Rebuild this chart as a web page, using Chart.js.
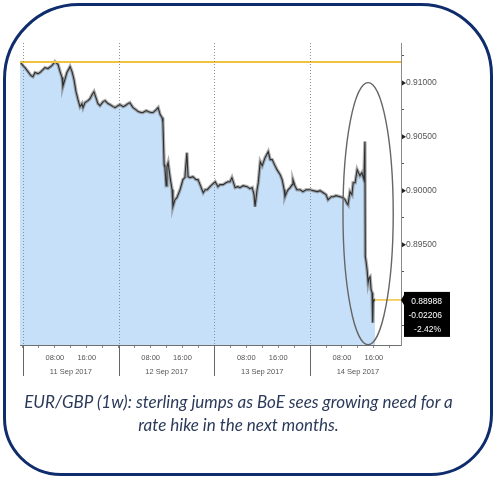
<!DOCTYPE html>
<html>
<head>
<meta charset="utf-8">
<script src="https://cdn.jsdelivr.net/npm/chart.js@4.4.0/dist/chart.umd.min.js"></script>
<style>
  html, body { margin: 0; padding: 0; background: #fff; }
  #wrap { position: relative; width: 495px; height: 478px; overflow: hidden; }
  #frame {
    position: absolute; left: 3px; top: 3px; width: 490px; height: 473px;
    box-sizing: border-box; border: 3px solid #0f2c6c;
    border-radius: 76px 72px 62px 58px;
  }
  #c { position: absolute; left: 0; top: 0; }
  #caption {
    position: absolute; left: 0; width: 477px; top: 390px;
    text-align: center; font-family: Lato, "Open Sans", sans-serif;
    font-style: italic; font-size: 17px; line-height: 23px; color: #2c3a5a;
  }
</style>
</head>
<body>
<div id="wrap">
  <canvas id="c" width="495" height="478"></canvas>
  <div id="frame"></div>
  <div id="caption">EUR/GBP (1w): sterling jumps as BoE sees growing need for a<br>rate hike in the next months.</div>
</div>
<script>
// EUR/GBP intraday, hours counted from 11 Sep 2017 00:00
const hours = [
  -0.75, 0, 0.5, 1.25, 2.0, 2.5, 3.0, 3.75, 4.25, 5.0, 5.5, 6.25, 7.25, 8.0, 8.8, 9.3, 9.8, 10.0, 10.5, 11.0,
  11.8, 12.3, 12.8, 13.3, 13.8, 14.3, 14.8, 15.05, 15.55, 16.3, 16.8, 17.3, 17.8, 18.3, 18.8, 19.3, 20.1, 20.6, 21.3, 21.8,
  22.6, 23.1, 23.8, 24.3, 25.1, 25.6, 26.3, 26.8, 27.6, 28.3, 28.9, 29.6, 30.1, 30.9, 31.4, 32.1, 32.6, 33.4, 33.9, 34.4,
  34.9, 35.1, 35.4, 35.6, 35.9, 36.1, 36.4, 36.9, 37.4, 37.6, 38.1, 38.6, 39.4, 40.1, 40.6, 41.1, 41.4, 41.9, 42.6, 43.4,
  43.9, 44.7, 45.2, 45.7, 46.2, 46.9, 47.4, 48.2, 48.9, 49.4, 50.2, 50.9, 51.4, 51.9, 52.4, 53.2, 53.9, 54.4, 55.2, 56.2,
  56.9, 57.5, 57.95, 58.2, 58.7, 59.0, 59.5, 60.0, 60.7, 61.5, 62.0, 62.5, 63.2, 63.7, 64.5, 65.0, 65.5, 65.7, 66.2, 66.5,
  67.0, 67.5, 67.7, 68.2, 68.7, 69.5, 70.2, 71.0, 72.0, 72.8, 73.8, 74.5, 75.3, 76.0, 76.5, 77.3, 77.8, 78.5, 79.5, 80.3,
  80.8, 81.3, 81.5, 82.0, 82.5, 82.8, 83.3, 83.8, 84.5, 85.0, 85.5, 85.75, 85.85, 86.05, 86.3, 86.55, 86.8, 87.05, 87.3, 87.55,
  87.7, 87.8, 88.05, 88.3
];
const prices = [
  0.91198, 0.91160, 0.91142, 0.91105, 0.91068, 0.91058, 0.91096, 0.91086, 0.91096, 0.91123, 0.91142, 0.91133, 0.91160, 0.91198, 0.91170, 0.91105, 0.91049, 0.90966, 0.91031, 0.91096,
  0.91151, 0.91105, 0.91031, 0.90919, 0.90845, 0.90780, 0.90808, 0.90771, 0.90817, 0.90836, 0.90854, 0.90891, 0.90919, 0.90864, 0.90808, 0.90789, 0.90827, 0.90836, 0.90808, 0.90799,
  0.90780, 0.90771, 0.90789, 0.90799, 0.90780, 0.90789, 0.90808, 0.90817, 0.90771, 0.90752, 0.90734, 0.90725, 0.90725, 0.90743, 0.90734, 0.90725, 0.90725, 0.90752, 0.90771, 0.90706,
  0.90678, 0.90632, 0.90242, 0.90214, 0.90047, 0.90224, 0.90261, 0.90122, 0.90010, 0.89853, 0.89917, 0.89936, 0.90010, 0.90103, 0.90122, 0.90353, 0.90131, 0.90122, 0.90131, 0.90103,
  0.90103, 0.90029, 0.89982, 0.90010, 0.90010, 0.90038, 0.90057, 0.90084, 0.90038, 0.90057, 0.90057, 0.90075, 0.90084, 0.90084, 0.90122, 0.90029, 0.90038, 0.90029, 0.90047, 0.90038,
  0.90020, 0.90029, 0.89964, 0.89853, 0.90010, 0.90075, 0.90270, 0.90233, 0.90307, 0.90363, 0.90289, 0.90289, 0.90233, 0.90196, 0.90149, 0.90103, 0.90010, 0.89945, 0.89992, 0.90010,
  0.90029, 0.90057, 0.90103, 0.90047, 0.90010, 0.90010, 0.89992, 0.90010, 0.90010, 0.90001, 0.89992, 0.90001, 0.89982, 0.89964, 0.89917, 0.89945, 0.89945, 0.89955, 0.89945, 0.89936,
  0.89917, 0.89880, 0.89871, 0.89992, 0.89964, 0.90075, 0.90075, 0.90196, 0.90140, 0.90168, 0.90103, 0.90456, 0.89389, 0.89342, 0.89268, 0.89148, 0.89194, 0.89203, 0.89083, 0.89055,
  0.88777, 0.88962, 0.88990, 0.88988
];
const prevClose = 0.91194;
const lastPrice = 0.88988;
const majorTicks = [0.895, 0.900, 0.905, 0.910];
const minorTicks = [0.8875, 0.8900, 0.8925, 0.8975, 0.9025, 0.9075, 0.9125];
const dayLabels = ['11 Sep 2017', '12 Sep 2017', '13 Sep 2017', '14 Sep 2017'];
const hourLabels = { 8: '08:00', 16: '16:00' };
const xRange = [-0.75, 94.8];
const yRange = [0.8857, 0.9137];
// highlight ring around the BoE move (centre and radii in hours / price)
const ring = { x: 86.55, y: 0.89788, rx: 6.3, ry: 0.01215 };

const axisFont = "'Liberation Sans', Arial, sans-serif";

const pts = hours.map((h, i) => ({ x: h, y: prices[i] }));
const lastHour = hours[hours.length - 1];

const overlay = {
  id: 'overlay',
  afterDatasetsDraw(chart) {
    const { ctx, chartArea: a, scales: { x, y } } = chart;
    ctx.save();
    // dotted day boundaries
    ctx.strokeStyle = '#8f8f8f';
    ctx.lineWidth = 1;
    ctx.setLineDash([1, 2]);
    for (let d = 0; d < dayLabels.length; d++) {
      const px = Math.round(x.getPixelForValue(d * 24)) + 0.5;
      ctx.beginPath(); ctx.moveTo(px, a.top); ctx.lineTo(px, a.bottom); ctx.stroke();
    }
    ctx.setLineDash([]);
    // ring
    const cx = x.getPixelForValue(ring.x), cy = y.getPixelForValue(ring.y);
    const rx = Math.abs(x.getPixelForValue(ring.x + ring.rx) - cx);
    const ry = Math.abs(y.getPixelForValue(ring.y + ring.ry) - cy);
    ctx.strokeStyle = '#666';
    ctx.lineWidth = 1.4;
    ctx.beginPath(); ctx.ellipse(cx, cy, rx, ry, 0, 0, Math.PI * 2); ctx.stroke();
    ctx.restore();
  },
  afterDraw(chart) {
    const { ctx, chartArea: a, scales: { x, y } } = chart;
    ctx.save();
    // day separators under the axis
    ctx.strokeStyle = '#666';
    ctx.lineWidth = 1;
    for (let d = 0; d < dayLabels.length; d++) {
      const px = Math.round(x.getPixelForValue(d * 24)) + 0.5;
      ctx.beginPath(); ctx.moveTo(px, a.bottom); ctx.lineTo(px, a.bottom + 31); ctx.stroke();
    }
    // arrow markers on labelled price ticks
    const ax = y.left;
    ctx.fillStyle = '#222';
    majorTicks.forEach(v => {
      const py = y.getPixelForValue(v);
      ctx.beginPath(); ctx.moveTo(ax + 1, py - 2.5); ctx.lineTo(ax + 5, py); ctx.lineTo(ax + 1, py + 2.5); ctx.closePath(); ctx.fill();
    });
    // last price tag
    const py = y.getPixelForValue(lastPrice);
    const bx = ax + 3, by = py - 8, bw = 46, bh = 45;
    ctx.fillStyle = '#000';
    ctx.beginPath(); ctx.moveTo(ax, py); ctx.lineTo(bx, py - 5); ctx.lineTo(bx, py + 5); ctx.closePath(); ctx.fill();
    ctx.fillRect(bx, by, bw, bh);
    const chg = lastPrice - prevClose;
    const pct = (lastPrice / prevClose - 1) * 100;
    ctx.fillStyle = '#fff';
    ctx.font = '8.5px ' + axisFont;
    ctx.textAlign = 'right';
    ctx.textBaseline = 'middle';
    ctx.fillText(lastPrice.toFixed(5), bx + 38, py + 2);
    ctx.fillText(chg.toFixed(5), bx + 38, py + 16);
    ctx.fillText(pct.toFixed(2) + '%', bx + 37, py + 30);
    ctx.restore();
  }
};

new Chart(document.getElementById('c'), {
  type: 'line',
  data: {
    datasets: [
      { data: [{ x: xRange[0], y: prevClose }, { x: xRange[1], y: prevClose }], borderColor: '#f2c23e', borderWidth: 2, pointRadius: 0, order: 0 },
      { data: [{ x: lastHour, y: lastPrice }, { x: xRange[1], y: lastPrice }], borderColor: '#f2c23e', borderWidth: 1.5, pointRadius: 0, order: 0 },
      { data: pts, borderColor: '#2e2e2e', borderWidth: 1.1, pointRadius: 0, order: 1 },
      { data: pts, borderColor: 'rgba(110,110,110,0.55)', borderWidth: 3.4, pointRadius: 0, fill: 'start', backgroundColor: '#c7e0f9', order: 2 }
    ]
  },
  options: {
    responsive: false,
    animation: false,
    layout: { padding: { left: 20, top: 43, right: 34, bottom: 93 } },
    plugins: { legend: { display: false }, tooltip: { enabled: false } },
    scales: {
      x: {
        type: 'linear', min: xRange[0], max: xRange[1],
        afterBuildTicks: s => { const t = []; for (let h = 0; h <= 92; h += 4) t.push({ value: h }); s.ticks = t; },
        afterFit: s => { s.height = 40; },
        grid: { drawOnChartArea: false, tickLength: 3, tickColor: '#888' },
        border: { color: '#6f6f6f' },
        ticks: {
          autoSkip: false, maxRotation: 0, minRotation: 0, padding: 3, color: '#555',
          font: { family: axisFont, size: 7.5, lineHeight: 1.85 },
          callback: v => {
            const hr = ((v % 24) + 24) % 24;
            if (hourLabels[hr]) return hourLabels[hr];
            if (hr === 12) return ['', dayLabels[Math.floor(v / 24)]];
            return '';
          }
        }
      },
      y: {
        position: 'right', min: yRange[0], max: yRange[1],
        afterBuildTicks: s => { s.ticks = minorTicks.concat(majorTicks).sort((a, b) => a - b).map(v => ({ value: v })); },
        afterFit: s => { s.width = 60; },
        grid: { drawOnChartArea: false, tickLength: 3, tickColor: '#555' },
        border: { color: '#8a8a8a' },
        ticks: {
          padding: 2, color: '#555',
          font: { family: axisFont, size: 8.5 },
          callback: v => majorTicks.some(m => Math.abs(m - v) < 1e-9) ? v.toFixed(5) : ''
        }
      }
    }
  },
  plugins: [overlay]
});
</script>
</body>
</html>
